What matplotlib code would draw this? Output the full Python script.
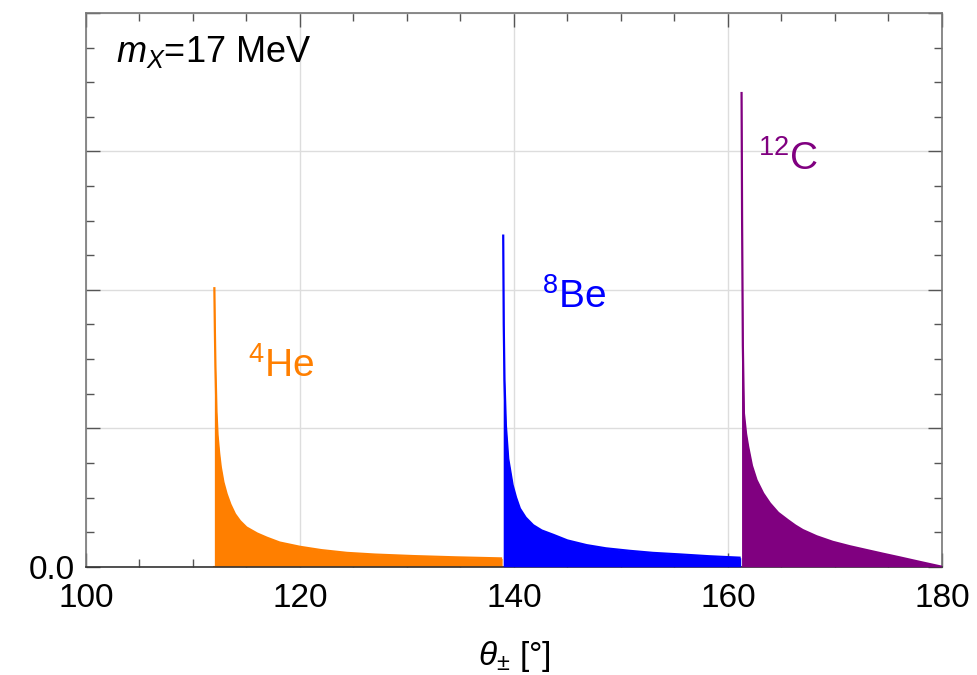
import matplotlib
matplotlib.use("Agg")
import matplotlib.pyplot as plt
from matplotlib.ticker import MultipleLocator, FixedLocator

plt.rcParams['font.family'] = ['Liberation Sans', 'DejaVu Sans']
plt.rcParams['mathtext.fontset'] = 'custom'
plt.rcParams['mathtext.rm'] = 'Liberation Sans'
plt.rcParams['mathtext.it'] = 'Liberation Sans:italic'
plt.rcParams['mathtext.bf'] = 'Liberation Sans:bold'

# ---- data ----
he_theta = [112.0, 112.0, 112.05, 112.1, 112.2, 112.3, 112.45, 112.6, 112.85, 113.15, 113.5, 113.93,
            114.4, 115.0, 116.0, 116.9, 118.1, 120.0, 122.0, 124.4, 127.0, 130.6, 134.5, 138.9]
he_val   = [0.0,   2.02,  1.70,   1.45,  1.12,  0.95,  0.82,   0.72,  0.61,   0.525,  0.45,  0.38,
            0.33,  0.284, 0.24,  0.21,  0.175, 0.144, 0.12,  0.10,  0.088, 0.077, 0.068, 0.06]
he_tail_theta = [112.0, 180.0]
he_tail_val   = [0.0, 0.0]

be_theta = [139.0, 139.0, 139.05, 139.12, 139.25, 139.47, 139.88, 140.2, 140.56, 141.1, 141.8,
            142.6, 143.7, 145.0, 146.8, 148.6, 150.8, 153.0, 155.5, 158.2, 161.2]
be_val   = [0.0,   2.40,  1.75,   1.35,   1.02,   0.78,   0.59,   0.50,  0.42,   0.355, 0.30,
            0.262, 0.23,  0.19,  0.156, 0.133, 0.115, 0.10,  0.089, 0.076, 0.065]

c_theta = [161.28, 161.28, 161.33, 161.4, 161.5, 161.7, 161.9, 162.25, 162.68, 163.3, 163.93,
           164.7, 165.6, 166.3, 167.0, 168.3, 169.8, 171.4, 173.0, 174.5, 176.1, 178.0, 180.0]
c_val   = [0.0,    3.43,   2.50,   1.60,  1.107, 0.96,  0.866, 0.73,   0.626,  0.53,  0.458,
           0.39,  0.337, 0.298, 0.265, 0.22,  0.18,  0.148, 0.12,  0.094, 0.067, 0.034, 0.0]

x_major = [100, 120, 140, 160, 180]
y_major = [0, 1, 2, 3, 4]
y_labels = ["0.0", "", "", "", ""]

c_orange = "#FF7F00"
c_blue = "#0000FF"
c_purple = "#800080"

fig = plt.figure(figsize=(9.77, 6.75), dpi=100)
ax = fig.add_axes([0.088, 0.1604, 0.876, 0.8203])

ax.fill_between(he_theta, he_val, 0, color=c_orange, lw=0, zorder=2)
ax.plot(he_theta[1:], he_val[1:], color=c_orange, lw=1.6, zorder=2, solid_capstyle='butt')
ax.plot(he_tail_theta, he_tail_val, color=c_orange, lw=1.5, zorder=1.5)

ax.fill_between(be_theta, be_val, 0, color=c_blue, lw=0, zorder=3)
ax.plot(be_theta[1:], be_val[1:], color=c_blue, lw=1.6, zorder=3, solid_capstyle='butt')

ax.fill_between(c_theta, c_val, 0, color=c_purple, lw=0, zorder=4)
ax.plot(c_theta[1:], c_val[1:], color=c_purple, lw=1.6, zorder=4, solid_capstyle='butt')

ax.set_xlim(100, 180)
ax.set_ylim(0, 4)
ax.xaxis.set_major_locator(FixedLocator(x_major))
ax.xaxis.set_minor_locator(MultipleLocator(5))
ax.yaxis.set_major_locator(FixedLocator(y_major))
ax.yaxis.set_minor_locator(MultipleLocator(0.25))
ax.set_yticklabels(y_labels)

ax.grid(True, which='major', color='#dddddd', lw=1.0, zorder=0)
ax.set_axisbelow(True)

ax.tick_params(which='both', direction='in', top=True, right=True,
               colors='#555555', labelcolor='black', labelsize=24, width=1.0)
ax.tick_params(which='major', length=10)
ax.tick_params(which='minor', length=6)
ax.tick_params(axis='x', pad=12)
ax.tick_params(axis='y', pad=8)
for s in ax.spines.values():
    s.set_color('#777777')
    s.set_linewidth(1.2)
ax.spines['bottom'].set_color('#333333')

ax.set_xlabel(r'$\theta_{\pm}$ [°]', fontsize=24, labelpad=18)

ax.text(0.035, 0.9115, r'$m_X$=17 MeV', transform=ax.transAxes, fontsize=26,
        ha='left', va='baseline')
ax.text(115.1, 1.37, r'$^{4}$He', color=c_orange, fontsize=28, ha='left', va='baseline')
ax.text(142.6, 1.87, r'$^{8}$Be', color=c_blue, fontsize=28, ha='left', va='baseline')
ax.text(162.8, 2.87, r'$^{12}$C', color=c_purple, fontsize=28, ha='left', va='baseline')

fig.savefig("out.png", dpi=100)
